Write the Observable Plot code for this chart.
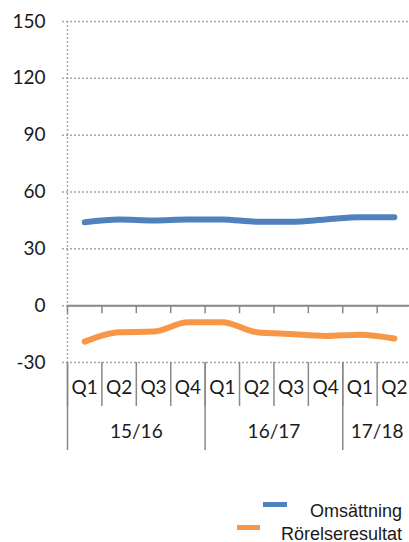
<!DOCTYPE html>
<html>
<head>
<meta charset="utf-8">
<script src="https://cdn.jsdelivr.net/npm/d3@7"></script>
<script src="https://cdn.jsdelivr.net/npm/@observablehq/plot@0.6"></script>
<style>
  html, body { margin: 0; padding: 0; background: #fff; overflow: hidden; }
  #wrap { position: relative; width: 409px; height: 542px; }
  #chart svg { display: block; }
  .lg-text { position: absolute; right: 7px; font-family: "Liberation Sans", Arial, sans-serif; font-size: 18px; line-height: 14px; color: #1a1a1a; white-space: nowrap; }
  .lg-sw { position: absolute; height: 5px; }
</style>
</head>
<body>
<div id="wrap">
  <div id="chart"></div>
  <div id="legend"></div>
</div>
<script>
const quarters = ["Q1","Q2","Q3","Q4","Q1","Q2","Q3","Q4","Q1","Q2"];
const years = ["15/16","16/17","17/18"];
const yearSizes = [4, 4, 2];
const omsattning = [44, 45.5, 45, 45.5, 45.5, 44.3, 44.3, 45.5, 46.7, 46.7];
const rorelseresultat = [-19, -14, -13.7, -8.8, -8.8, -14, -15, -16, -15.3, -17.3];
const yTicks = [-30, 0, 30, 60, 90, 120, 150];
const seriesNames = ["Omsättning", "Rörelseresultat"];
const colors = ["#4F81BD", "#F79646"];

// derived tables
const rows = quarters.map((q, i) => ({i, q, oms: omsattning[i], ror: rorelseresultat[i]}));
const boundaries = d3.range(quarters.length + 1);
let acc = 0;
const yearStarts = [];
const yearCenters = years.map((y, k) => { yearStarts.push(acc); const c = acc + yearSizes[k] / 2; acc += yearSizes[k]; return {y, c}; });
yearStarts.push(acc);

const font = "Lato, 'Open Sans', sans-serif";
const grid = "#a6a6a6";
const axisGray = "#888888";
const ink = "#1a1a1a";

const chart = Plot.plot({
  width: 409,
  height: 470,
  marginLeft: 67,
  marginRight: 0,
  marginTop: 21,
  marginBottom: 108,
  x: {domain: [0, 9.94], axis: null},
  y: {domain: [-30, 150], axis: null},
  style: {fontFamily: font, overflow: "visible"},
  marks: [
    Plot.ruleY(yTicks, {y: d => d, stroke: grid, strokeWidth: 1.5, strokeDasharray: "2,2", insetLeft: -5}),
    Plot.ruleX([0], {x: d => d, stroke: grid, strokeWidth: 1.5, strokeDasharray: "2,2"}),
    Plot.ruleY([0], {y: d => d, stroke: axisGray, strokeWidth: 2}),
    Plot.ruleX(boundaries, {x: d => d, y1: 0, y2: 0, insetBottom: -8, stroke: axisGray, strokeWidth: 1.5}),
    Plot.line(rows, {x: d => d.i + 0.5, y: "oms", stroke: colors[0], strokeWidth: 6, curve: "monotone-x", strokeLinecap: "round", strokeLinejoin: "round"}),
    Plot.line(rows, {x: d => d.i + 0.5, y: "ror", stroke: colors[1], strokeWidth: 6, curve: "monotone-x", strokeLinecap: "round", strokeLinejoin: "round"}),
    Plot.ruleX(boundaries, {x: d => d, y1: -30, y2: -30, insetBottom: -44, stroke: axisGray, strokeWidth: 1.5}),
    Plot.ruleX(yearStarts, {x: d => d, y1: -30, y2: -30, insetBottom: -88, stroke: axisGray, strokeWidth: 1.5}),
    Plot.text(yTicks, {y: d => d, text: d => String(d), frameAnchor: "left", textAnchor: "end", dx: -22, fontSize: 19, fill: ink}),
    Plot.text(rows, {x: d => d.i + 0.5, text: "q", frameAnchor: "bottom", dy: 31, fontSize: 19, fill: ink}),
    Plot.text(yearCenters, {x: "c", text: "y", frameAnchor: "bottom", dy: 75, fontSize: 19, fill: ink})
  ]
});
document.getElementById("chart").appendChild(chart);

// legend
const legend = document.getElementById("legend");
const legendItems = [
  {name: seriesNames[0], color: colors[0], swLeft: 263, swTop: 501.5, swW: 24, textTop: 504},
  {name: seriesNames[1], color: colors[1], swLeft: 237, swTop: 524.5, swW: 23, textTop: 526.5}
];
for (const it of legendItems) {
  const sw = document.createElement("div");
  sw.className = "lg-sw";
  sw.style.left = it.swLeft + "px";
  sw.style.top = it.swTop + "px";
  sw.style.width = it.swW + "px";
  sw.style.background = it.color;
  legend.appendChild(sw);
  const t = document.createElement("div");
  t.className = "lg-text";
  t.style.top = it.textTop + "px";
  t.textContent = it.name;
  legend.appendChild(t);
}
</script>
</body>
</html>
